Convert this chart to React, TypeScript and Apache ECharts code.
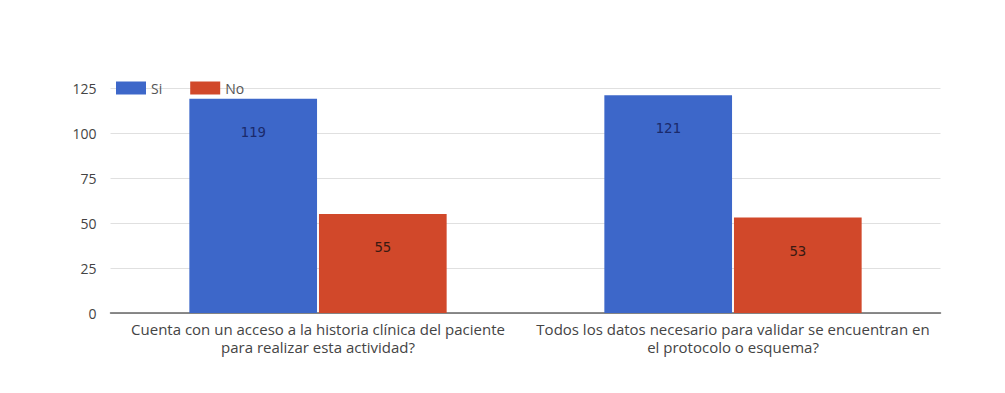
import React, { useEffect, useRef } from "react";
import * as echarts from "echarts";

const categories = [
  "Cuenta con un acceso a la historia clínica del paciente\npara realizar esta actividad?",
  "Todos los datos necesario para validar se encuentran en\nel protocolo o esquema?",
];
const siValues = [119, 121];
const noValues = [55, 53];
const seriesNames = ["Si", "No"];

export default function App() {
  const ref = useRef<HTMLDivElement>(null);
  useEffect(() => {
    if (!ref.current) return;
    const chart = echarts.init(ref.current, null, { renderer: "svg" });
    const labelFont = { fontFamily: "DejaVu Sans Mono", fontSize: 14 };
    chart.setOption({
      animation: false,
      backgroundColor: "#ffffff",
      textStyle: { fontFamily: "'Open Sans', Arial, sans-serif" },
      legend: {
        left: 111,
        top: 76,
        itemWidth: 30,
        itemHeight: 13,
        itemGap: 28,
        icon: "rect",
        textStyle: { color: "#555", fontSize: 14, lineHeight: 14 },
        data: seriesNames,
      },
      grid: { left: 110.5, right: 64.5, top: 88, bottom: 80 },
      xAxis: {
        type: "category",
        data: categories,
        axisLine: { lineStyle: { color: "#666", width: 1.5 } },
        axisTick: { show: false },
        axisLabel: { color: "#444", fontSize: 15, lineHeight: 18, margin: 7, interval: 0 },
      },
      yAxis: {
        type: "value",
        min: 0,
        max: 125,
        interval: 25,
        axisLine: { show: false },
        axisTick: { show: false },
        axisLabel: { color: "#444", fontSize: 14, margin: 14 },
        splitLine: { lineStyle: { color: "#e0e0e0" } },
      },
      series: [
        {
          name: seriesNames[0],
          type: "bar",
          data: siValues,
          itemStyle: { color: "#3d67c9" },
          barGap: "1.5%",
          barCategoryGap: "38%",
          label: { show: true, position: "insideTop", distance: 26, color: "#1b2a6b", ...labelFont },
        },
        {
          name: seriesNames[1],
          type: "bar",
          data: noValues,
          itemStyle: { color: "#d1482a" },
          label: { show: true, position: "insideTop", distance: 26, color: "#3a1a12", ...labelFont },
        },
      ],
    });
    return () => chart.dispose();
  }, []);
  return (
    <div
      ref={ref}
      style={{ position: "fixed", left: 0, top: 0, width: 1005, height: 393, background: "#fff" }}
    />
  );
}
